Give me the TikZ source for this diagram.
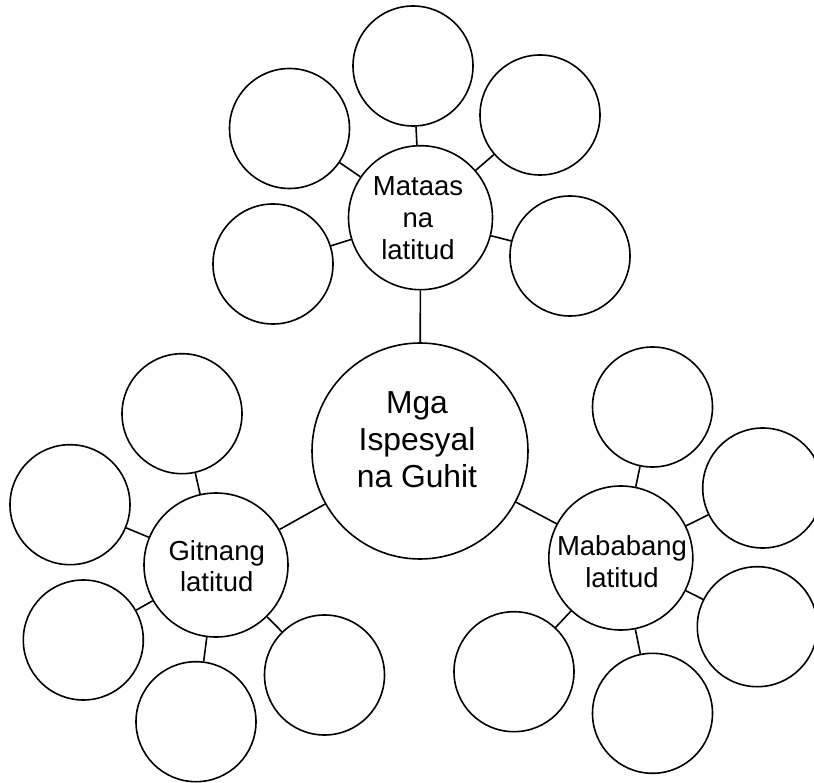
\documentclass[tikz,border=0pt]{standalone}
\usepackage{fontspec}
\setmainfont{Liberation Sans}
\begin{document}
\begin{tikzpicture}[x=1pt,y=-1pt,
  bub/.style={circle,draw=black,line width=1.6pt,minimum size=120pt,inner sep=0pt,fill=white},
  mid/.style={bub,minimum size=144pt},
  hub/.style={bub,minimum size=216pt},
  lbl/.style={align=center,inner sep=0pt,font=\fontsize{27.5}{31.7}\selectfont},
  biglbl/.style={align=center,inner sep=0pt,font=\fontsize{31.8}{37}\selectfont},
  conn/.style={line width=1.6pt}]
\clip (0,0) rectangle (814,783);
\fill[white] (0,0) rectangle (814,783);

% hub
\node[hub] (c) at (420,451) {};
% medium circles
\node[mid] (m) at (420.5,217.7) {};
\node[mid] (g) at (216,565) {};
\node[mid] (b) at (620.8,558) {};

% Mataas satellites
\node[bub] (m1) at (413,66) {};
\node[bub] (m2) at (289.5,128.5) {};
\node[bub] (m3) at (540,115) {};
\node[bub] (m4) at (273,264) {};
\node[bub] (m5) at (570,256) {};

% Gitnang satellites
\node[bub] (g1) at (182,413.7) {};
\node[bub] (g2) at (70,504.7) {};
\node[bub] (g3) at (83.3,640) {};
\node[bub] (g4) at (196,721.7) {};
\node[bub] (g5) at (324.5,675) {};

% Mababang satellites
\node[bub] (b1) at (652.5,407) {};
\node[bub] (b2) at (762.7,488) {};
\node[bub] (b3) at (757.3,626.7) {};
\node[bub] (b4) at (652.5,713.3) {};
\node[bub] (b5) at (514,671.7) {};

% connectors
\draw[conn] (c) -- (m);
\draw[conn] (c) -- (g);
\draw[conn] (c) -- (b);
\foreach \s in {m1,m2,m3,m4,m5} \draw[conn] (m) -- (\s);
\foreach \s in {g1,g2,g3,g4,g5} \draw[conn] (g) -- (\s);
\foreach \s in {b1,b2,b3,b4,b5} \draw[conn] (b) -- (\s);

% labels
\node[biglbl] (tc) at (417,439.5) {Mga\\Ispesyal\\na Guhit};
\node[lbl] (tm) at (418,218) {Mataas\\na\\latitud};
\node[lbl] (tg) at (216.7,566.3) {Gitnang\\latitud};
\node[lbl] (tb) at (622,561.7) {Mababang\\latitud};
\end{tikzpicture}
\end{document}
